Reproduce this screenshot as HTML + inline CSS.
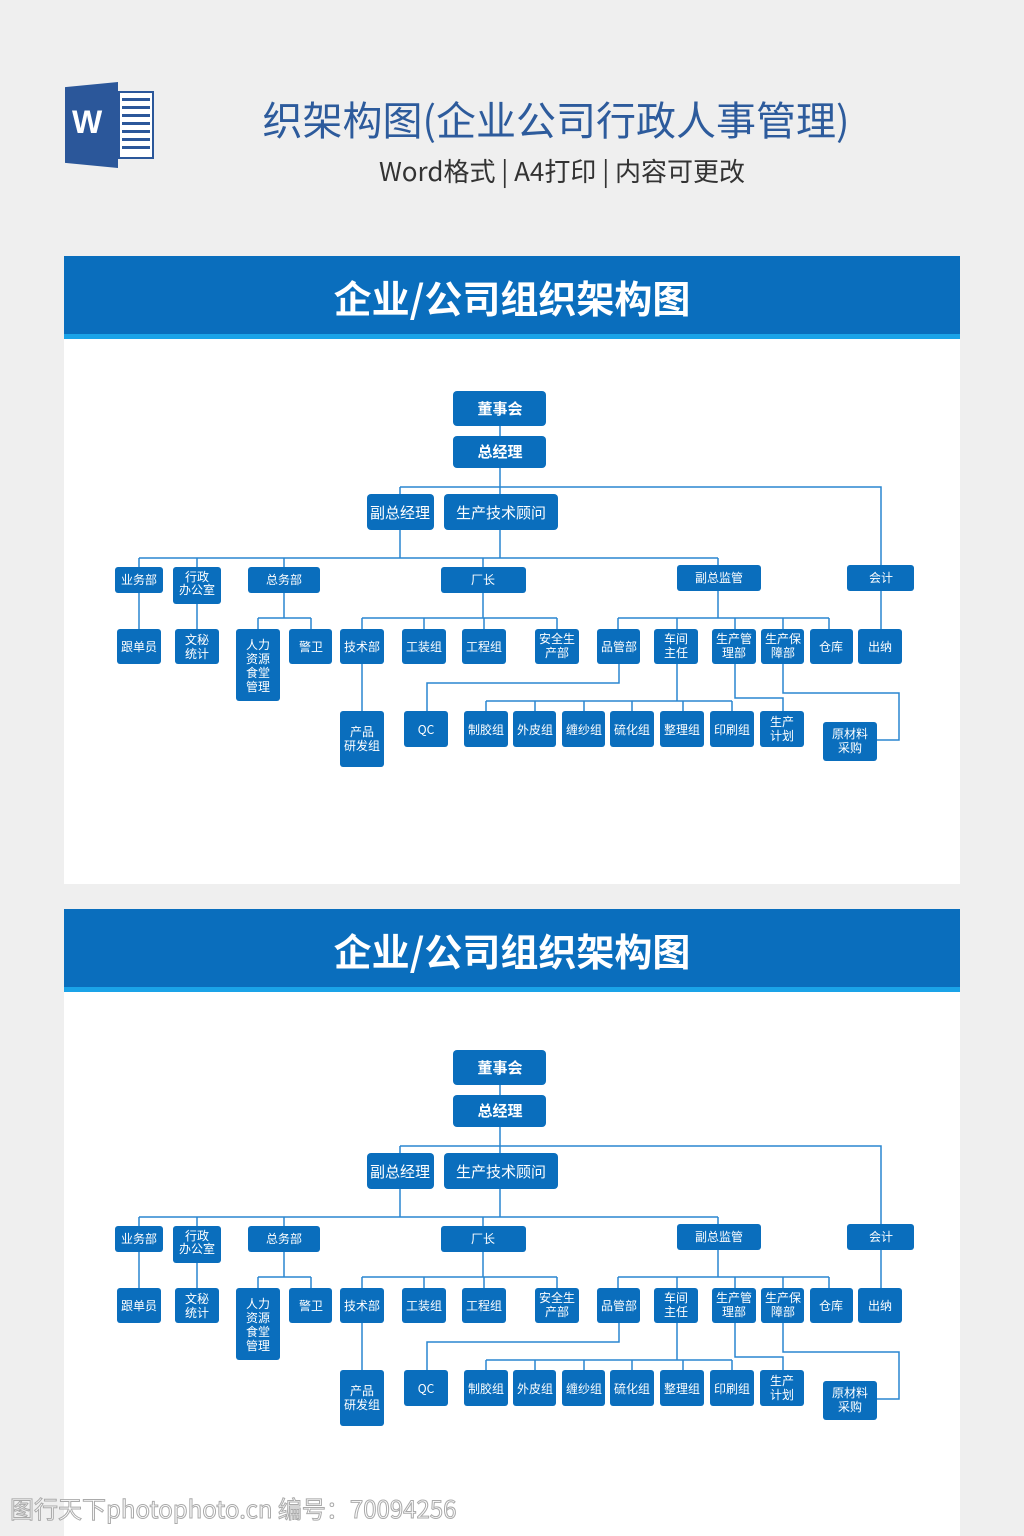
<!DOCTYPE html>
<html><head><meta charset="utf-8"><style>
html,body{margin:0;padding:0;background:#efefef;}
body{width:1024px;height:1536px;position:relative;overflow:hidden;font-family:"Liberation Sans","Noto Sans CJK SC",sans-serif;}
.t1{position:absolute;left:0;width:1112px;top:89px;text-align:center;font-size:40px;color:#2d5b9c;font-family:"Noto Sans CJK SC",sans-serif;}
.t2{position:absolute;left:0;width:1124px;top:152px;text-align:center;font-size:26px;color:#333;font-family:"Noto Sans CJK SC",sans-serif;}
.panel{position:absolute;left:64px;width:896px;background:#fff;}
.ban{position:absolute;left:0;top:0;width:896px;height:78px;background:#0a6ebd;border-bottom:5px solid #1aa3e8;color:#fff;font-size:38px;font-weight:bold;text-align:center;line-height:82px;font-family:"Noto Sans CJK SC",sans-serif;}
svg text{font-family:"Noto Sans CJK SC",sans-serif;fill:#fff;font-size:12px;text-anchor:middle;}
svg text.b{font-size:15px;}
.wm{position:absolute;left:10px;top:1490px;font-size:24px;color:#fff;-webkit-text-stroke:1px #aaa;font-family:"Noto Sans CJK SC",sans-serif;}
</style></head><body>
<div style="position:absolute;left:65px;top:82px;width:53px;height:86px;background:#2b579a;clip-path:polygon(0 6%,100% 0,100% 100%,0 94%);"></div>
<div style="position:absolute;left:118px;top:91px;width:36px;height:68px;background:#fff;border:2px solid #2b579a;box-sizing:border-box;"></div>
<div style="position:absolute;left:122px;top:98px;width:28px;height:56px;background:repeating-linear-gradient(#2b579a 0 3px,transparent 3px 8px);"></div>
<div style="position:absolute;left:72px;top:104px;font-size:32px;font-weight:bold;color:#fff;">W</div>
<div class="t1">织架构图(企业公司行政人事管理)</div>
<div class="t2">Word格式 | A4打印 | 内容可更改</div>

<div class="panel" style="top:256px;height:628px;"><div class="ban">企业/公司组织架构图</div></div>
<div class="panel" style="top:909px;height:627px;"><div class="ban">企业/公司组织架构图</div></div>

<svg width="1024" height="1536" style="position:absolute;left:0;top:0">
<g id="c1">
<g stroke="#2a86d0" stroke-width="1.5" fill="none">
<path d="M500 426V436M500 468V558M400 487H881V565M400 487V494M400 530V558M139 558H718M139 558V567M197 558V567M284 558V567M483 558V567M718 558V565"/>
<path d="M139 593V629M197 604V629M284 593V618M258 618H311M258 618V629M311 618V629"/>
<path d="M483 593V618M362 618H557M362 618V629M424 618V629M484 618V629M557 618V629M362 664V711"/>
<path d="M718 591V618M618 618H829M618 618V629M677 618V629M735 618V629M783 618V629M829 618V629M881 591V629"/>
<path d="M619 664V683H427V711M677 664V701M486 701H732M486 701V711M535 701V711M584 701V711M632 701V711M683 701V711M732 701V711"/>
<path d="M735 664V698H783V711M783 664V693H899V740H877"/>
</g>
<g fill="#0a6ebd">
<rect x="453" y="391" width="93" height="35" rx="4"/><rect x="453" y="436" width="93" height="32" rx="4"/>
<rect x="367" y="494" width="67" height="36" rx="4"/><rect x="444" y="494" width="114" height="36" rx="4"/>
<rect x="115" y="567" width="48" height="26" rx="3"/><rect x="173" y="567" width="48" height="37" rx="3"/>
<rect x="248" y="567" width="72" height="26" rx="3"/><rect x="441" y="567" width="85" height="26" rx="3"/>
<rect x="677" y="565" width="84" height="26" rx="3"/><rect x="847" y="565" width="67" height="26" rx="3"/>
<rect x="117" y="629" width="44" height="35" rx="3"/><rect x="175" y="629" width="44" height="35" rx="3"/>
<rect x="236" y="629" width="44" height="72" rx="3"/><rect x="289" y="629" width="43" height="35" rx="3"/>
<rect x="340" y="629" width="44" height="35" rx="3"/><rect x="402" y="629" width="44" height="35" rx="3"/>
<rect x="462" y="629" width="44" height="35" rx="3"/><rect x="535" y="629" width="44" height="35" rx="3"/>
<rect x="597" y="629" width="43" height="35" rx="3"/><rect x="654" y="629" width="44" height="35" rx="3"/>
<rect x="712" y="629" width="44" height="35" rx="3"/><rect x="761" y="629" width="43" height="35" rx="3"/>
<rect x="810" y="629" width="43" height="35" rx="3"/><rect x="858" y="629" width="44" height="35" rx="3"/>
<rect x="340" y="711" width="44" height="56" rx="3"/><rect x="404" y="711" width="44" height="36" rx="3"/>
<rect x="464" y="711" width="44" height="36" rx="3"/><rect x="513" y="711" width="43" height="36" rx="3"/>
<rect x="562" y="711" width="43" height="36" rx="3"/><rect x="610" y="711" width="44" height="36" rx="3"/>
<rect x="660" y="711" width="44" height="36" rx="3"/><rect x="710" y="711" width="44" height="36" rx="3"/>
<rect x="760" y="711" width="44" height="36" rx="3"/><rect x="823" y="722" width="54" height="39" rx="3"/>
</g>
<text class="b" x="500" y="414" style="font-weight:bold">董事会</text>
<text class="b" x="500" y="457" style="font-weight:bold">总经理</text>
<text class="b" x="400" y="518">副总经理</text>
<text class="b" x="501" y="518">生产技术顾问</text>
<text x="139" y="584">业务部</text>
<text x="197" y="581">行政<tspan x="197" dy="13">办公室</tspan></text>
<text x="284" y="584">总务部</text>
<text x="483" y="584">厂长</text>
<text x="719" y="582">副总监管</text>
<text x="881" y="582">会计</text>
<text x="139" y="651">跟单员</text>
<text x="197" y="644">文秘<tspan x="197" dy="14">统计</tspan></text>
<text x="258" y="649">人力<tspan x="258" dy="14">资源</tspan><tspan x="258" dy="14">食堂</tspan><tspan x="258" dy="14">管理</tspan></text>
<text x="311" y="651">警卫</text>
<text x="362" y="651">技术部</text>
<text x="424" y="651">工装组</text>
<text x="484" y="651">工程组</text>
<text x="557" y="643">安全生<tspan x="557" dy="14">产部</tspan></text>
<text x="619" y="651">品管部</text>
<text x="676" y="643">车间<tspan x="676" dy="14">主任</tspan></text>
<text x="734" y="643">生产管<tspan x="734" dy="14">理部</tspan></text>
<text x="783" y="643">生产保<tspan x="783" dy="14">障部</tspan></text>
<text x="831" y="651">仓库</text>
<text x="880" y="651">出纳</text>
<text x="362" y="736">产品<tspan x="362" dy="14">研发组</tspan></text>
<text x="426" y="734">QC</text>
<text x="486" y="734">制胶组</text>
<text x="535" y="734">外皮组</text>
<text x="584" y="734">缠纱组</text>
<text x="632" y="734">硫化组</text>
<text x="682" y="734">整理组</text>
<text x="732" y="734">印刷组</text>
<text x="782" y="726">生产<tspan x="782" dy="14">计划</tspan></text>
<text x="850" y="738">原材料<tspan x="850" dy="14">采购</tspan></text>
</g>
<g transform="translate(0,659)">
<g stroke="#2a86d0" stroke-width="1.5" fill="none">
<path d="M500 426V436M500 468V558M400 487H881V565M400 487V494M400 530V558M139 558H718M139 558V567M197 558V567M284 558V567M483 558V567M718 558V565"/>
<path d="M139 593V629M197 604V629M284 593V618M258 618H311M258 618V629M311 618V629"/>
<path d="M483 593V618M362 618H557M362 618V629M424 618V629M484 618V629M557 618V629M362 664V711"/>
<path d="M718 591V618M618 618H829M618 618V629M677 618V629M735 618V629M783 618V629M829 618V629M881 591V629"/>
<path d="M619 664V683H427V711M677 664V701M486 701H732M486 701V711M535 701V711M584 701V711M632 701V711M683 701V711M732 701V711"/>
<path d="M735 664V698H783V711M783 664V693H899V740H877"/>
</g>
<g fill="#0a6ebd">
<rect x="453" y="391" width="93" height="35" rx="4"/><rect x="453" y="436" width="93" height="32" rx="4"/>
<rect x="367" y="494" width="67" height="36" rx="4"/><rect x="444" y="494" width="114" height="36" rx="4"/>
<rect x="115" y="567" width="48" height="26" rx="3"/><rect x="173" y="567" width="48" height="37" rx="3"/>
<rect x="248" y="567" width="72" height="26" rx="3"/><rect x="441" y="567" width="85" height="26" rx="3"/>
<rect x="677" y="565" width="84" height="26" rx="3"/><rect x="847" y="565" width="67" height="26" rx="3"/>
<rect x="117" y="629" width="44" height="35" rx="3"/><rect x="175" y="629" width="44" height="35" rx="3"/>
<rect x="236" y="629" width="44" height="72" rx="3"/><rect x="289" y="629" width="43" height="35" rx="3"/>
<rect x="340" y="629" width="44" height="35" rx="3"/><rect x="402" y="629" width="44" height="35" rx="3"/>
<rect x="462" y="629" width="44" height="35" rx="3"/><rect x="535" y="629" width="44" height="35" rx="3"/>
<rect x="597" y="629" width="43" height="35" rx="3"/><rect x="654" y="629" width="44" height="35" rx="3"/>
<rect x="712" y="629" width="44" height="35" rx="3"/><rect x="761" y="629" width="43" height="35" rx="3"/>
<rect x="810" y="629" width="43" height="35" rx="3"/><rect x="858" y="629" width="44" height="35" rx="3"/>
<rect x="340" y="711" width="44" height="56" rx="3"/><rect x="404" y="711" width="44" height="36" rx="3"/>
<rect x="464" y="711" width="44" height="36" rx="3"/><rect x="513" y="711" width="43" height="36" rx="3"/>
<rect x="562" y="711" width="43" height="36" rx="3"/><rect x="610" y="711" width="44" height="36" rx="3"/>
<rect x="660" y="711" width="44" height="36" rx="3"/><rect x="710" y="711" width="44" height="36" rx="3"/>
<rect x="760" y="711" width="44" height="36" rx="3"/><rect x="823" y="722" width="54" height="39" rx="3"/>
</g>
<text class="b" x="500" y="414" style="font-weight:bold">董事会</text>
<text class="b" x="500" y="457" style="font-weight:bold">总经理</text>
<text class="b" x="400" y="518">副总经理</text>
<text class="b" x="501" y="518">生产技术顾问</text>
<text x="139" y="584">业务部</text>
<text x="197" y="581">行政<tspan x="197" dy="13">办公室</tspan></text>
<text x="284" y="584">总务部</text>
<text x="483" y="584">厂长</text>
<text x="719" y="582">副总监管</text>
<text x="881" y="582">会计</text>
<text x="139" y="651">跟单员</text>
<text x="197" y="644">文秘<tspan x="197" dy="14">统计</tspan></text>
<text x="258" y="649">人力<tspan x="258" dy="14">资源</tspan><tspan x="258" dy="14">食堂</tspan><tspan x="258" dy="14">管理</tspan></text>
<text x="311" y="651">警卫</text>
<text x="362" y="651">技术部</text>
<text x="424" y="651">工装组</text>
<text x="484" y="651">工程组</text>
<text x="557" y="643">安全生<tspan x="557" dy="14">产部</tspan></text>
<text x="619" y="651">品管部</text>
<text x="676" y="643">车间<tspan x="676" dy="14">主任</tspan></text>
<text x="734" y="643">生产管<tspan x="734" dy="14">理部</tspan></text>
<text x="783" y="643">生产保<tspan x="783" dy="14">障部</tspan></text>
<text x="831" y="651">仓库</text>
<text x="880" y="651">出纳</text>
<text x="362" y="736">产品<tspan x="362" dy="14">研发组</tspan></text>
<text x="426" y="734">QC</text>
<text x="486" y="734">制胶组</text>
<text x="535" y="734">外皮组</text>
<text x="584" y="734">缠纱组</text>
<text x="632" y="734">硫化组</text>
<text x="682" y="734">整理组</text>
<text x="732" y="734">印刷组</text>
<text x="782" y="726">生产<tspan x="782" dy="14">计划</tspan></text>
<text x="850" y="738">原材料<tspan x="850" dy="14">采购</tspan></text>
</g>
</svg>
<div class="wm">图行天下photophoto.cn 编号：70094256</div>
</body></html>
